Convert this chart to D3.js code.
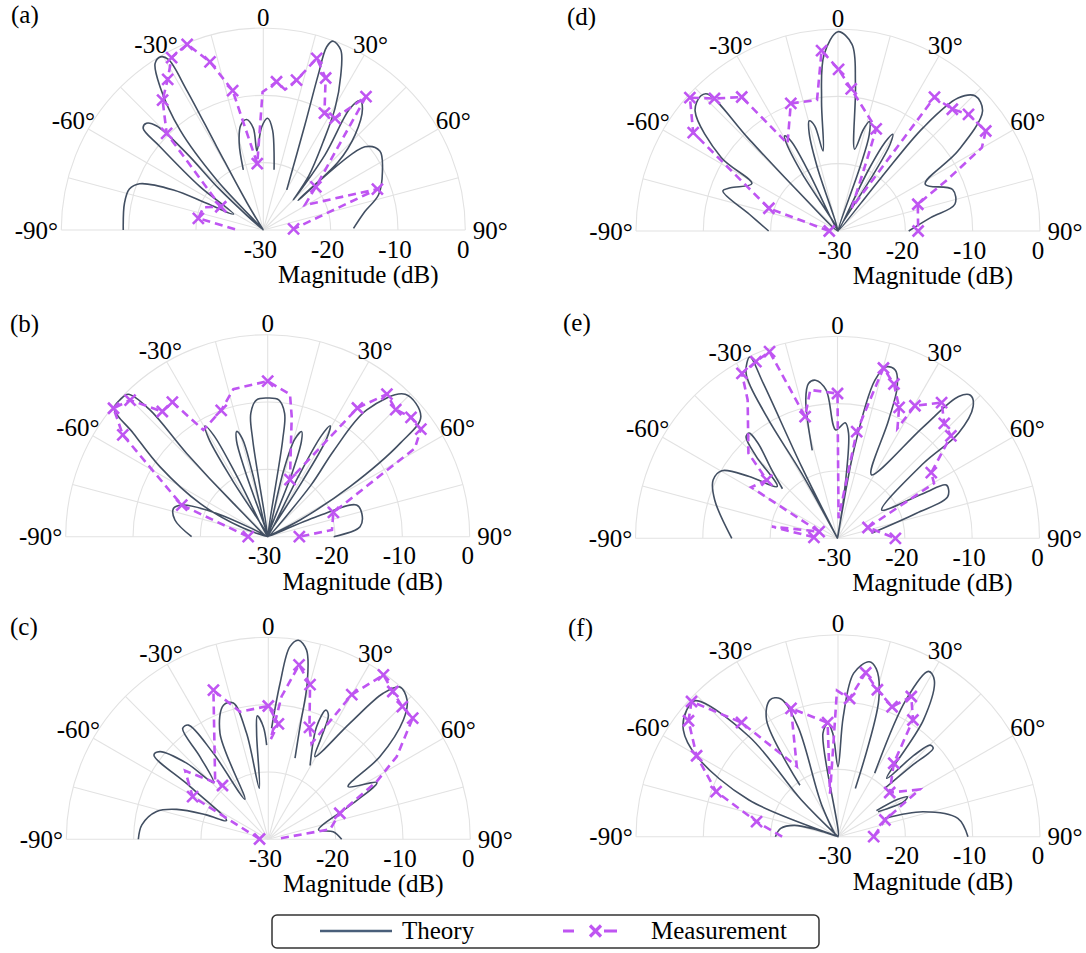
<!DOCTYPE html>
<html>
<head>
<meta charset="utf-8">
<script src="https://cdn.jsdelivr.net/npm/d3@7"></script>
<style>
  body { margin: 0; background: #ffffff; }
</style>
</head>
<body>
<svg id="chart" width="1086" height="953"></svg>
<script>
// ---- tick definitions ----
const angleTicks = [-90, -60, -30, 0, 30, 60, 90];
const radialTicks = [-30, -20, -10, 0];
const panelNames = ["(a)", "(b)", "(c)", "(d)", "(e)", "(f)"];

// ---- theory patterns: [angle (deg), magnitude (dB)], null = break in the trace ----
const theoryA = [
  [-90,-9.2],[-79,-9.0],[-73,-9.2],[-69.5,-10.4],[-66,-15.4],[-64.8,-20.7],[-62,-25],
  [-55.6,-18.6],[-51.1,-10.3],[-49.7,-6.6],[-47.6,-6.5],[-45.7,-7.9],[-45,-13.9],[-47,-21],[-45,-30],
  [-43,-19.9],[-39.8,-10.7],[-35.8,-3.8],[-33,-0.5],[-30.7,-0.1],[-29.1,-1],[-28.7,-6.3],[-29.2,-15.8],[-31,-25.3],[-30,-30],
  null,
  [-18.4,-20.6],[-15.5,-16.6],[-12.2,-14.1],[-8.6,-13.4],[-5.6,-14.8],[-4.6,-18.2],[-0.9,-14.7],[2.2,-13.4],[5.3,-15.1],[10.1,-20.9],
  null,
  [30.3,-23.1],[21.6,-13.2],[19.5,-5.6],[19.1,-1.2],[20.3,-0.1],[23.3,-0.9],[26.6,-4.3],[30.5,-9],[34.2,-14.2],[40,-19.5],[45,-23.7],
  [39.4,-15.6],[35.5,-7.8],[36.8,-6.0],[39.2,-6.7],[44,-10.4],[47.7,-14.9],[49.4,-23.2],
  [50.7,-10.5],[55.9,-9.1],[63.9,-10.3],[73,-12.1],[79.8,-14.7],[89,-16.6]
];
const theoryB = [
  [-90,-18.7],[-79.8,-16],[-73.2,-15.4],[-69.8,-16.4],[-65.4,-21.7],[-66,-30],
  [-70,-25.6],[-63.8,-18.8],[-57,-10.9],[-52.4,-4.8],[-50.2,-0.3],[-47,-0.1],[-44.4,-0.4],[-42.9,-4.3],[-44.2,-12.7],[-45.8,-22.9],[-40,-30],
  [-32,-20],[-31,-13],[-29.5,-11.1],[-28,-13],[-27,-20],[-23,-30],
  [-19,-20],[-18,-15],[-16.4,-13.7],[-14.5,-15],[-13.5,-20],[-10,-30],
  [-8.8,-15.5],[-7.8,-11.5],[-4.6,-9.6],[0,-9.4],[4.6,-9.6],[7.8,-11.5],[8.8,-15.5],[10,-30],
  [13.5,-20],[15.5,-15],[17.9,-13.6],[19.5,-15],[21,-20],[24,-30],
  [27,-20],[28,-13],[29.4,-11.1],[31,-13],[32,-20],[36,-30],
  [40,-20],[37.5,-13.9],[38,-6.1],[44,-0.6],[51.9,-1.1],[54.8,-5.9],[58.7,-15.7],[62.7,-24.6],[65,-30],
  [67.8,-22.1],[70.4,-16],[76,-15.6],[83.8,-16.2],[90,-20.2]
];
const theoryC = [
  [-90,-10.7],[-83.5,-11.1],[-76,-12.9],[-71.9,-15.7],[-68.5,-20.1],[-65.9,-23.2],
  [-56,-16],[-53.6,-8.9],[-51,-9.3],[-47,-13.4],[-44,-18.3],
  [-39.6,-14.1],[-37.7,-9.2],[-35,-9.3],[-32.6,-14.8],[-30.3,-23.1],
  [-24.5,-12.7],[-18.5,-9],[-14.4,-9.1],[-11.6,-13.9],[-10,-22.3],
  [-6.3,-14.2],[-5.1,-11.6],[-2.5,-13.3],[-1,-16],
  null,
  [1.7,-13.5],[4.3,-6.8],[6.4,-1.2],[8.6,-0.1],[11.4,-1.3],[14,-6.1],[15.7,-12.6],[18.2,-17.3],
  null,
  [29.5,-17.4],[23.2,-11.8],[24,-9],[25.8,-9.5],[27.5,-13],[29.4,-15.9],
  [35.1,-8.9],[38.2,-2.4],[40.8,-0.1],[44.9,-0.8],[48.5,-3.2],[53.5,-9.4],[56.6,-15.8],
  [62.4,-11.8],[67,-16.3],[79.4,-22.4],[83.3,-20.3],[90,-19.1]
];
const theoryD = [
  [-90,-19.7],[-79.3,-16.6],[-70.8,-11.9],[-68.1,-12.8],[-61.2,-15.4],
  [-57.8,-9.5],[-50,-2.3],[-45.5,-1.4],[-43.6,-1.9],[-44.1,-11],[-45.1,-20.9],[-40,-30],
  [-32,-20],[-30.5,-15],[-29.3,-13.8],[-27.5,-15],[-26.5,-20],[-22,-30],
  [-18,-20],[-16.5,-15],[-14.7,-13.1],[-12.5,-14],[-10.6,-17.9],
  [-7.2,-10.5],[-4.5,-3.7],[0,-0.4],[4.3,-2.2],[6.8,-8.1],[11.5,-17.6],
  [14,-14.5],[16,-13.1],[18,-15],[19,-20],[22,-30],
  [26.5,-20],[28,-15],[29.5,-13.5],[31,-15],[32,-20],[36,-30],
  [39,-20],[39.5,-10.1],[42.1,-3.4],[45.5,-1.4],[50.3,-2.1],[56.3,-8.6],[61.8,-15.3],
  [70.1,-11.9],[77.1,-12.2],[81.8,-16.1],[90,-19.5]
];
const theoryE = [
  [-90,-14.3],[-72.7,-10.9],[-64.9,-9.6],[-59.7,-10.1],[-55,-14],[-49.4,-18.2],
  [-44.8,-12.9],[-42,-9.7],[-40,-9.6],[-39.9,-11.6],[-44,-16],[-48,-19],
  null,
  [-29,-30],[-28.9,-19],[-30.2,-9.1],[-29,-2],[-25.8,-0.1],[-25.6,-4.5],[-26.6,-18.1],[-27,-30],
  null,
  [-16,-16.4],[-12.9,-8.9],[-10.6,-6.6],[-7.9,-6.3],[-4.4,-7.9],[-0.9,-13.9],[3.8,-12.8],[6,-14.3],[8.8,-24.2],[10,-30],
  [10.5,-16.7],[13.3,-5.9],[16,-3.5],[19,-3.6],[21.5,-5.8],[23.4,-10.9],[28.1,-19.3],
  [37.6,-9.1],[40.5,-2.3],[42.9,-1],[45.8,-1.9],[49,-6.2],[48.9,-13.1],[57.4,-22.2],
  [62.4,-15.6],[63.9,-12],[69.3,-12.5],[72.4,-17.7],[81.6,-24.9]
];
const theoryF = [
  [-90,-20.7],[-81.8,-21.4],[-75.4,-23.3],[-72,-27],[-60,-30],
  [-67.6,-15.7],[-60.4,-5.9],[-55.4,-2.1],[-50.1,-0.7],[-46.4,-0.7],[-41.6,-10.1],[-44.9,-22.3],[-40,-30],
  null,
  [-36.5,-20.5],[-31.5,-9.7],[-26.4,-7.3],[-22.6,-7.8],[-20,-12.6],[-27.6,-25],[-20,-30],
  [-8.3,-14.5],[-5.1,-13.1],[-2.9,-14.6],[0,-19.6],
  [2.5,-12.2],[5.5,-5.6],[10.1,-3.6],[12.8,-4.4],[16.6,-8.8],[19.8,-22.4],
  null,
  [30,-19.1],[26.4,-7.3],[28.7,-2],[31.6,-2.7],[36.2,-8.5],[39.9,-18.7],
  [43,-13.5],[45.2,-10.7],[47.1,-10.7],[46,-15],[44,-20],
  null,
  [55.8,-23.1],[58,-19.5],[60.1,-18.1],[62,-19],[58,-23],
  null,
  [68.7,-22.5],[73.7,-16.8],[81.3,-12],[90,-10.7]
];

// ---- measurements: [angle (deg), magnitude (dB), marker shown (1/0)] ----
const measA = [
  [-88.6,-25.8,0],[-79.8,-20.2,1],[-69.3,-20.5,0],[-61.3,-22.8,1],[-45,-9.7,1],[-37.8,-5.6,1],
  [-32.4,-3.5,1],[-28,-1.0,1],[-22.3,-0.2,1],[-17.6,-3.8,1],[-12.4,-8.8,1],[-5.2,-20.1,1],
  [-0.3,-9.5,0],[5.1,-7.9,1],[8.8,-8.9,0],[12.5,-7.2,1],[17.3,-3.3,1],[22.3,-5.6,1],
  [27.6,-10.4,1],[32.7,-10.3,1],[37.6,-5,1],[50.6,-19.9,1],[59,-22.8,0],[70.3,-12,1],[88,-25.5,1]
];
const measB = [
  [-90,-27.1,1],[-69.8,-16.4,1],[-54.9,-3.7,1],[-50.2,-0.2,1],[-45.2,-1.2,1],[-40.1,-5.7,1],
  [-35.3,-5.5,1],[-31.1,-11.5,0],[-20.2,-10,1],[-13.1,-7.5,0],[0,-6.9,1],[8.9,-8.6,0],
  [11.3,-11.8,0],[21.3,-20.9,1],[34.9,-6.7,1],[39.9,-2.4,1],[45.2,-3.2,1],[50.2,-2.3,1],
  [54.9,-2.2,1],[59,-4.5,0],[69.7,-19.6,1],[84,-20.4,0],[90,-25.3,1]
];
const measC = [
  [-88,-28.7,1],[-60.6,-17.1,1],[-50.5,-14,0],[-40.4,-19.5,1],[-42,-18.2,0],[-20.2,-6.4,1],
  [-12.5,-10.6,0],[0,-10.2,1],[5,-12.8,1],[1.3,-15.2,0],[5.3,-8.7,0],[10,-3.7,1],
  [15.1,-6.2,1],[20.2,-12.3,1],[24.3,-14.4,0],[30,-5.2,1],[35,-0.2,1],[40.1,-1.3,1],
  [45.3,-2,1],[50,-2,1],[57.2,-7.3,0],[62,-11.8,0],[70,-18.7,1],[80.8,-20.7,0],[88,-28.8,0]
];
const measD = [
  [-90,-28.7,1],[-71.8,-19.2,1],[-55.8,-4.0,1],[-48,-0.4,1],[-43,-3.1,1],[-35.7,-5.5,1],
  [-30,-15,0],[-20.3,-9.8,1],[-9.1,-10.3,0],[-5.2,-3.1,1],[0.2,-6.0,1],[5.3,-8.8,1],
  [20.5,-13.8,1],[22,-18.3,0],[30.8,-26,0],[35.8,-5.5,1],[43.2,-5.2,1],[48.2,-4.0,1],
  [55.9,-3.5,1],[59.9,-5.3,0],[64.8,-12,0],[71.5,-17.5,1],[90,-18.1,1]
];
const measE = [
  [-87.6,-26.5,1],[-79.9,-20.1,0],[-70.1,-27.1,1],[-59.4,-15.1,0],[-50.5,-16.4,1],[-46.3,-11.7,0],
  [-33,-5.5,0],[-30.1,-1.7,1],[-24.8,-1.1,1],[-20,-0.5,1],[-14.9,-11.3,1],[-10.4,-7.6,0],
  [0,-8.5,1],[3,-27,0],[10.2,-13.9,1],[15.1,-3.8,1],[20.1,-5.6,1],[25.2,-8.5,1],
  [28.6,-11.4,0],[30.3,-7.2,1],[37.5,-4.6,1],[42.9,-6.7,1],[47.9,-7.3,1],[55,-13,1],
  [60.3,-13.5,0],[70.5,-25.2,1],[90,-21.4,1]
];
const measF = [
  [-90,-21.7,0],[-79.5,-17.7,1],[-69.7,-10.7,1],[-60.2,-5.8,1],[-52.2,-1.9,1],[-47.3,-0.4,1],
  [-40.2,-7.8,1],[-30.4,-17.9,0],[-20.1,-9.7,1],[-5.2,-13,1],[-10.5,-23.5,0],[-0.4,-8.3,0],
  [4.8,-9.4,1],[9.6,-5.3,1],[15,-7.4,1],[22.6,-9.1,1],[27.6,-6.5,1],[32.7,-9.4,1],
  [37.2,-16.3,1],[49.5,-19.9,1],[60,-16,0],[70.4,-22.6,1],[90,-24.7,1]
];

// ---- drawing ----
const theoryColor = "#424f62";
const measColor = "#bf55f2";
const gridColor = "#e2e2e2";
const serif = "'Liberation Serif', 'Times New Roman', 'DejaVu Serif', serif";
const fontSize = 25;
const R = 202;

const rScale = d3.scaleLinear().domain([-30, 0]).range([0, R]);
const rad = deg => deg * Math.PI / 180;

const panels = [
  { name: panelNames[0], cx: 263.3, cy: 230,   lx: 11,  ly: 22.5,  theory: theoryA, meas: measA },
  { name: panelNames[1], cx: 267.7, cy: 536.7, lx: 10,  ly: 332,   theory: theoryB, meas: measB },
  { name: panelNames[2], cx: 268.3, cy: 839.3, lx: 10,  ly: 634.7, theory: theoryC, meas: measC },
  { name: panelNames[3], cx: 838,   cy: 231,   lx: 567, ly: 24.7,  theory: theoryD, meas: measD },
  { name: panelNames[4], cx: 837.5, cy: 538.3, lx: 563, ly: 331,   theory: theoryE, meas: measE },
  { name: panelNames[5], cx: 838,   cy: 836.7, lx: 568, ly: 635.5, theory: theoryF, meas: measF }
];

const svg = d3.select("#chart");
svg.append("rect").attr("width", 1086).attr("height", 953).attr("fill", "#fff");

const addText = (sel, x, y, str) => sel.append("text")
  .attr("x", x).attr("y", y)
  .attr("font-family", serif)
  .attr("font-size", fontSize)
  .attr("fill", "#000")
  .text(str);

const theoryLine = d3.lineRadial()
  .defined(d => d !== null)
  .angle(d => rad(d[0]))
  .radius(d => rScale(d[1]))
  .curve(d3.curveCatmullRom.alpha(0.5));

const measLine = d3.lineRadial()
  .angle(d => rad(d[0]))
  .radius(d => rScale(d[1]))
  .curve(d3.curveLinear);

// distance of angular tick labels from the pole
const labelDist = a => R + 11 + 14 * Math.pow(Math.abs(a) / 90, 2);

panels.forEach(p => {
  addText(svg, p.lx, p.ly, p.name);

  const g = svg.append("g").attr("transform", `translate(${p.cx},${p.cy})`);

  // grid arcs
  radialTicks.filter(v => v > -30).forEach(v => {
    const r = rScale(v);
    g.append("path")
      .attr("d", `M${-r},0A${r},${r} 0 0 1 ${r},0`)
      .attr("fill", "none")
      .attr("stroke", gridColor)
      .attr("stroke-width", 1.1);
  });

  // spokes every 15 degrees
  d3.range(-90, 91, 15).forEach(a => {
    const [x, y] = d3.pointRadial(rad(a), R);
    g.append("line")
      .attr("x1", 0).attr("y1", 0).attr("x2", x).attr("y2", y)
      .attr("stroke", gridColor)
      .attr("stroke-width", 1.1);
  });

  // theory trace
  g.append("path")
    .attr("d", theoryLine(p.theory))
    .attr("fill", "none")
    .attr("stroke", theoryColor)
    .attr("stroke-width", 1.6)
    .attr("stroke-linejoin", "round");

  // measurement trace
  g.append("path")
    .attr("d", measLine(p.meas))
    .attr("fill", "none")
    .attr("stroke", measColor)
    .attr("stroke-width", 2.6)
    .attr("stroke-dasharray", "8,5");

  const s = 5.5;
  g.selectAll("path.mk")
    .data(p.meas.filter(d => d[2] === 1))
    .join("path")
    .attr("class", "mk")
    .attr("transform", d => {
      const [x, y] = d3.pointRadial(rad(d[0]), rScale(d[1]));
      return `translate(${x},${y})`;
    })
    .attr("d", `M${-s},${-s}L${s},${s}M${-s},${s}L${s},${-s}`)
    .attr("stroke", measColor)
    .attr("stroke-width", 2.6)
    .attr("fill", "none");

  // angular tick labels
  angleTicks.forEach(a => {
    const [x, y] = d3.pointRadial(rad(a), labelDist(a));
    addText(g, x, y, a === 0 ? "0" : `${a}°`)
      .attr("text-anchor", "middle")
      .attr("dominant-baseline", "central");
  });

  // radial tick labels along the baseline
  radialTicks.forEach(v => {
    addText(g, rScale(v) - (v === 0 ? 2 : 3), 19, v)
      .attr("text-anchor", "middle")
      .attr("dominant-baseline", "central");
  });

  addText(g, 95, 53, "Magnitude (dB)").attr("text-anchor", "middle");
});

// ---- legend ----
const lg = svg.append("g");
lg.append("rect")
  .attr("x", 272).attr("y", 915).attr("width", 547).attr("height", 33)
  .attr("rx", 5)
  .attr("fill", "#fff")
  .attr("stroke", "#333")
  .attr("stroke-width", 1.5);
lg.append("line")
  .attr("x1", 320).attr("x2", 392).attr("y1", 931).attr("y2", 931)
  .attr("stroke", "#4a5f7a").attr("stroke-width", 2.6);
addText(lg, 402, 939, "Theory");
lg.append("line")
  .attr("x1", 563).attr("x2", 628).attr("y1", 931).attr("y2", 931)
  .attr("stroke", measColor).attr("stroke-width", 3)
  .attr("stroke-dasharray", "11,14,0,16,13");
lg.append("path")
  .attr("transform", "translate(595.5,931)")
  .attr("d", "M-5.5,-5.5L5.5,5.5M-5.5,5.5L5.5,-5.5")
  .attr("stroke", measColor).attr("stroke-width", 3.2);
addText(lg, 651, 939, "Measurement");
</script>
</body>
</html>
